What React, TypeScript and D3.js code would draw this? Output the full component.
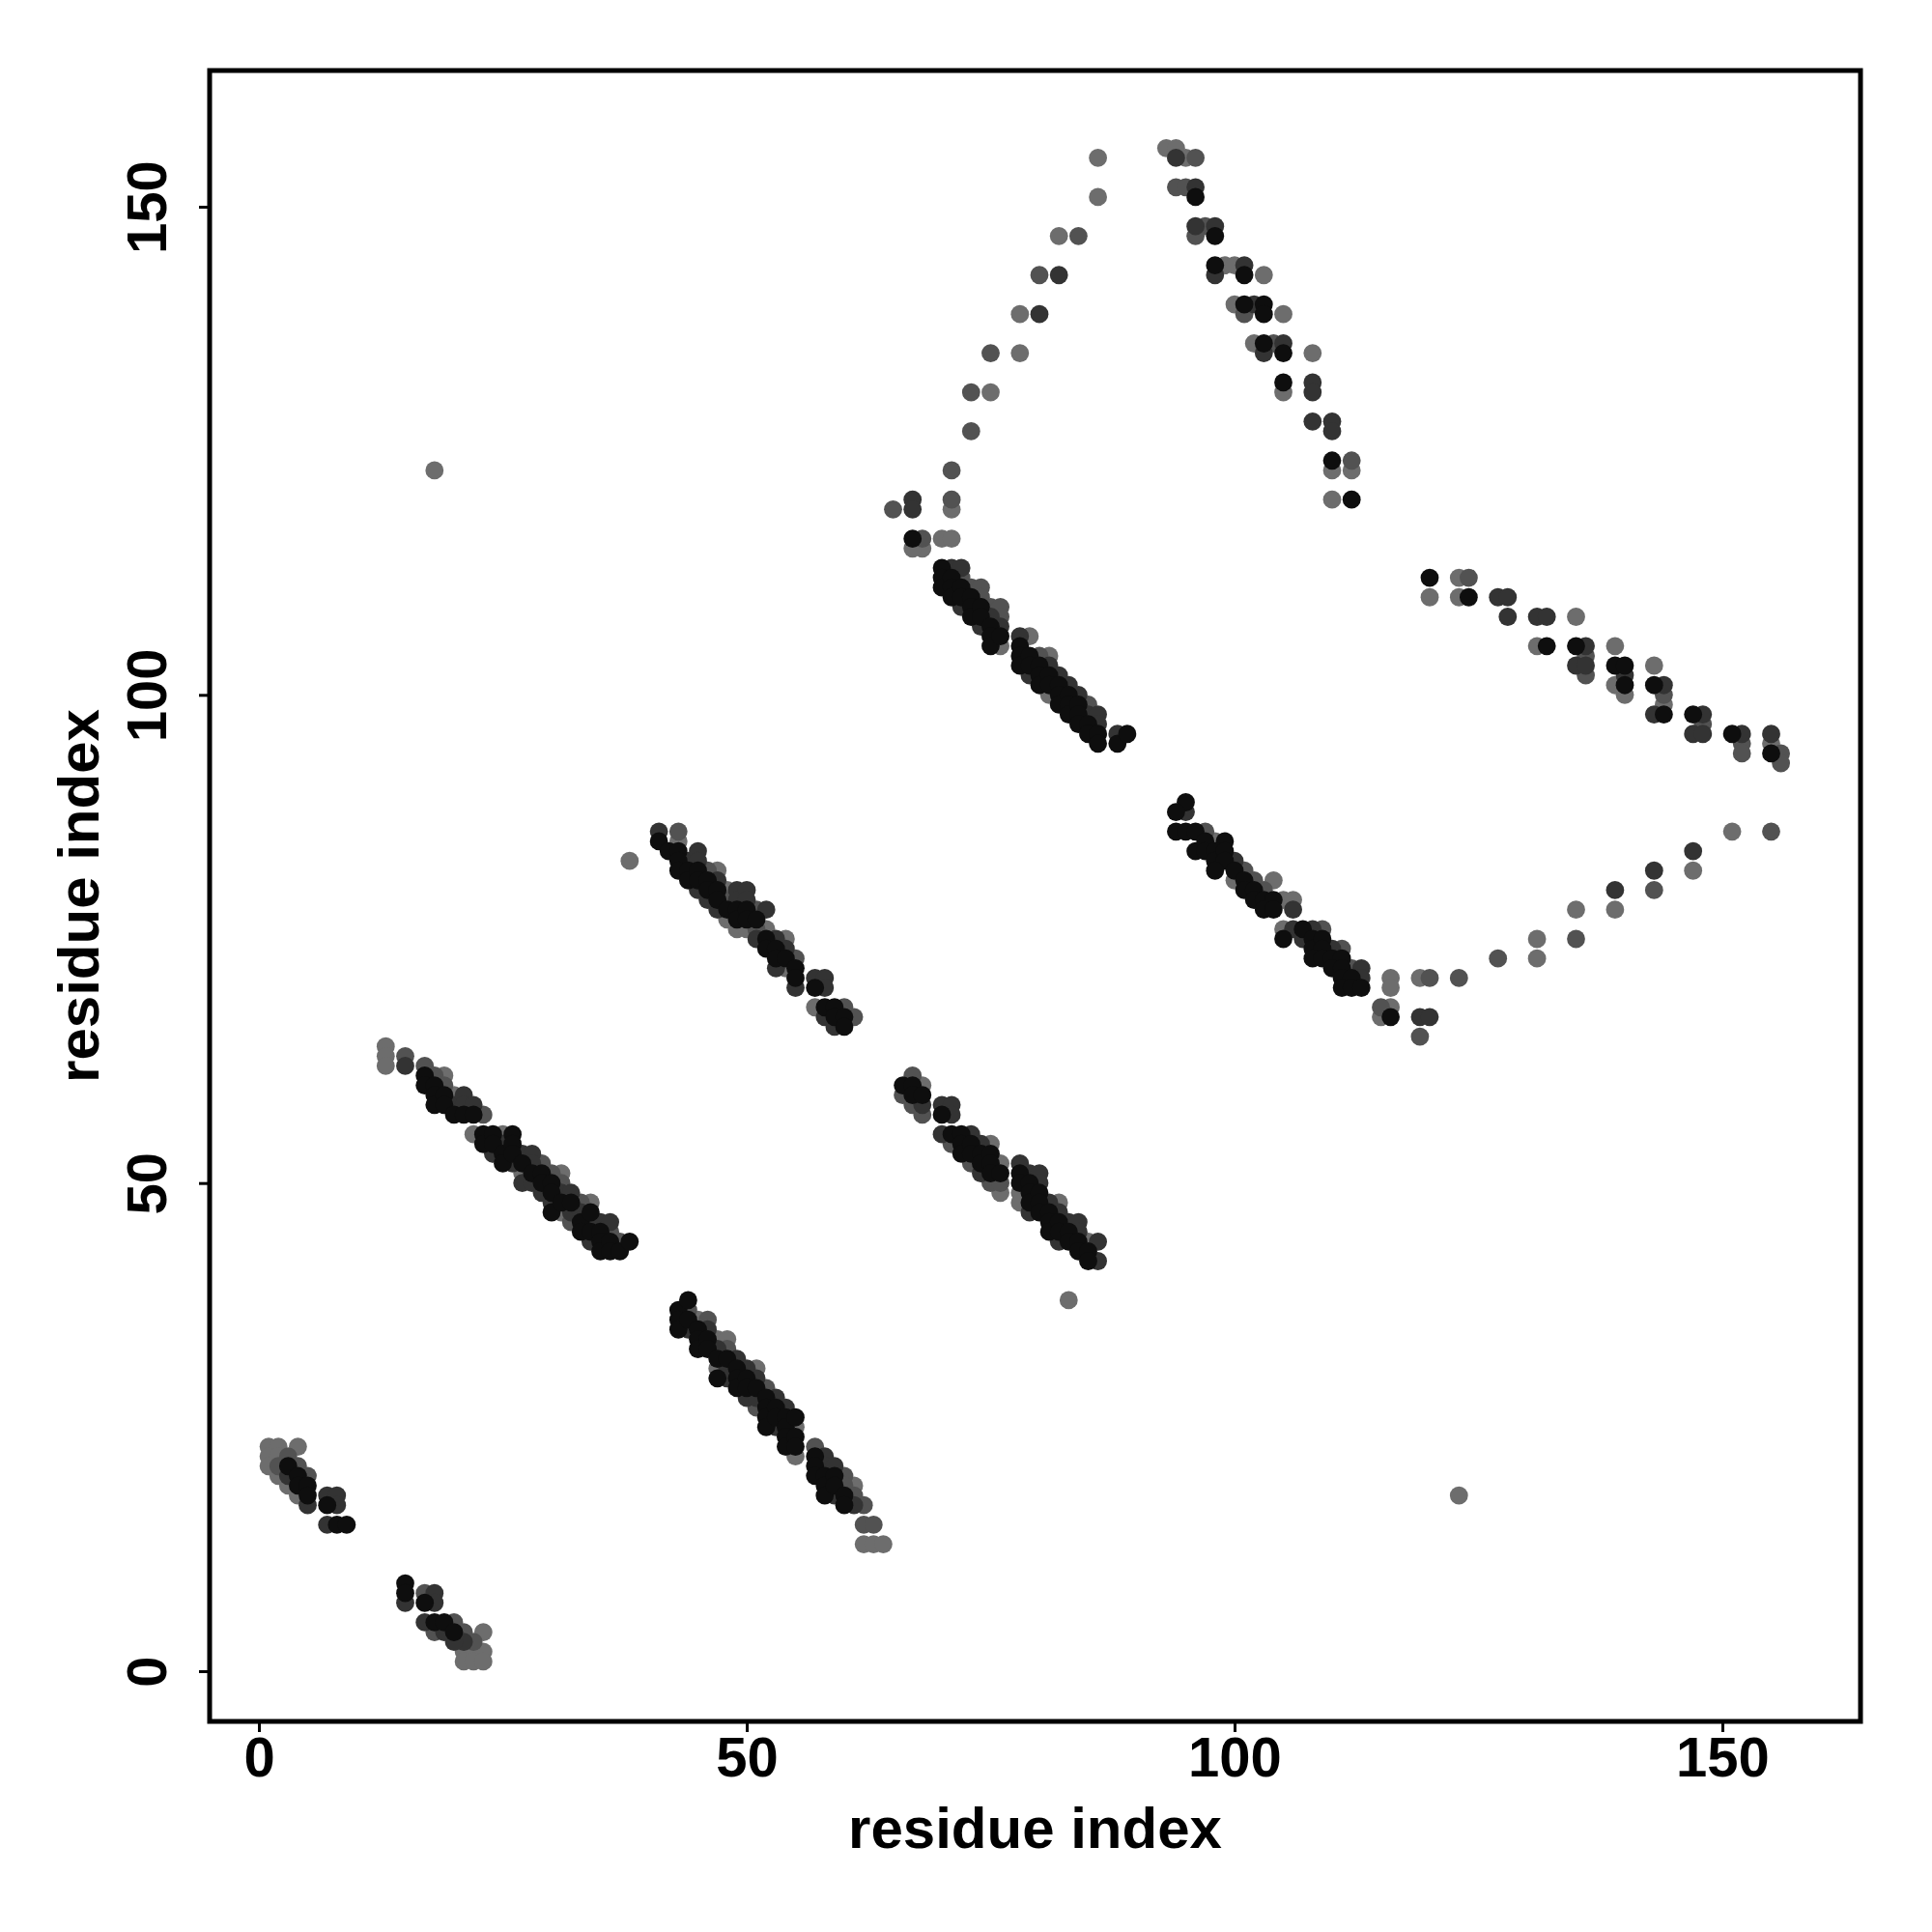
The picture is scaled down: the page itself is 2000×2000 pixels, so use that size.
import { useEffect, useRef } from "react";
import * as d3 from "d3";

// contact points as "i,j" pairs, grouped by grey level
const lightPts =
  "1,23 2,23 4,23 1,22 2,22 1,21 2,20 3,19 4,18 " +
  "23,4 21,2 22,2 23,2 21,1 22,1 23,1 " +
  "13,64 13,63 13,62 19,61 20,59 22,55 25,55 27,51 31,51 31,47 34,48 " +
  "38,83 43,85 47,82 48,80 48,77 49,76 50,76 52,76 54,75 54,72 57,68 " +
  "45,36 47,34 48,34 47,31 51,31 55,25 55,22 61,19 62,13 63,13 64,13 " +
  "68,60 75,54 76,52 76,49 78,49 78,48 82,48 85,44 83,38 " +
  "76,105 79,106 81,104 81,100 71,119 68,115 67,115 70,116 71,116 " +
  "86,155 86,151 82,147 78,139 78,135 75,131 " +
  "93,156 94,156 95,155 99,144 100,144 103,143 100,140 105,139 102,136 108,135 105,131 110,123 112,123 110,120 " +
  "98,85 100,81 104,81 105,79 106,79 105,76 116,71 116,70 115,67 116,68 119,71 " +
  "131,75 131,73 135,78 139,78 147,82 151,86 " +
  "120,110 123,112 123,110 135,108 131,105 139,105 139,101 140,100 143,103 144,99 155,95 " +
  "18,123 123,18";

const midPts =
  "3,22 2,21 4,21 5,20 " +
  "17,8 20,5 18,4 21,4 22,3 " +
  "15,63 17,62 18,61 19,60 23,57 29,52 30,51 31,50 32,46 33,48 36,45 37,44 " +
  "43,86 46,82 48,79 51,78 51,76 55,73 60,68 61,67 " +
  "44,37 46,36 48,33 51,27 52,29 57,23 60,20 60,19 61,18 62,17 62,15 63,15 " +
  "66,59 67,61 67,58 68,57 71,54 73,52 75,50 76,50 " +
  "72,112 73,111 74,111 74,110 75,109 76,109 76,108 80,104 85,99 65,119 71,120 68,116 " +
  "84,147 80,143 75,135 73,131 73,127 71,123 " +
  "96,155 94,152 95,152 97,148 96,147 101,139 104,136 112,124 " +
  "97,86 101,82 102,81 103,80 109,76 111,74 112,72 115,68 119,65 120,71 123,71 " +
  "127,73 135,75 143,80 " +
  "124,112 136,104 136,102 144,100 148,97 152,95 152,94 156,94 156,93 155,86";

const darkPts =
  "3,20 5,17 7,18 8,18 8,17 7,15 " +
  "15,7 18,8 18,7 17,5 19,4 21,3 20,3 " +
  "15,62 20,58 21,59 21,58 22,58 24,53 25,54 26,52 27,53 27,50 28,53 28,52 28,50 29,49 30,48 31,49 32,49 32,47 33,47 34,46 34,44 35,46 36,46 " +
  "41,86 44,83 45,84 45,83 45,80 46,79 47,81 47,78 49,80 49,79 50,80 50,79 51,75 52,78 53,75 53,72 54,74 55,70 57,71 58,71 58,70 58,67 59,66 " +
  "44,35 46,35 47,33 48,31 48,30 49,32 50,31 50,28 51,30 51,28 53,28 53,25 54,27 58,22 58,21 59,21 59,18 61,17 " +
  "68,58 70,58 70,55 71,58 71,57 73,55 74,54 74,51 78,52 79,51 79,47 80,51 80,50 81,48 82,47 82,44 83,46 84,46 84,45 86,44 86,42 " +
  "71,113 72,113 72,109 74,107 75,108 76,107 78,106 79,102 81,103 82,102 83,101 84,100 85,98 86,98 86,97 88,96 67,120 67,119 " +
  "82,143 80,139 " +
  "94,155 96,152 96,148 98,148 98,143 101,144 102,140 105,136 103,135 108,132 108,131 108,128 110,128 110,127 " +
  "95,88 100,83 106,78 106,76 108,76 107,75 110,74 113,72 113,71 119,67 120,67 " +
  "139,80 143,82 147,84 " +
  "127,110 128,110 128,108 131,108 132,108 136,105 135,103 136,103 140,102 144,101 143,98 148,98 147,96 148,96 152,96 155,96";

const blackPts =
  "3,21 4,20 4,19 5,19 5,18 7,17 8,15 9,15 " +
  "15,9 15,8 17,7 18,5 19,5 20,4 " +
  "17,61 17,60 18,60 18,59 18,58 19,59 19,58 20,57 21,57 22,57 23,55 23,54 24,55 24,54 25,53 25,52 26,55 26,54 26,53 " +
  "27,52 28,51 29,51 29,50 30,50 30,49 30,47 31,48 32,48 33,46 33,45 34,47 34,45 35,45 35,44 35,43 36,44 36,43 37,43 38,44 " +
  "41,85 42,84 43,84 43,83 43,82 44,82 44,81 45,82 45,81 46,81 46,80 47,80 47,79 48,78 49,78 49,77 50,78 50,77 " +
  "51,77 52,75 52,74 53,74 53,73 54,73 55,72 55,71 57,70 58,68 59,68 59,67 60,67 60,66 " +
  "43,37 43,36 43,35 44,38 44,36 45,35 45,34 45,33 46,34 46,33 47,32 47,30 48,32 49,31 49,30 49,29 50,30 50,29 51,29 " +
  "52,28 52,27 52,26 52,25 53,27 53,26 54,26 54,25 54,24 54,23 55,26 55,24 55,23 57,22 57,21 57,20 58,20 58,19 58,18 59,20 59,19 60,18 60,17 " +
  "66,60 67,60 67,59 68,59 70,57 71,55 72,55 72,54 72,53 73,54 73,53 74,53 74,52 75,53 75,52 75,51 76,51 78,51 78,50 " +
  "79,50 79,49 79,48 80,49 80,48 80,47 81,47 81,46 81,45 82,46 82,45 83,45 83,44 84,44 84,43 85,43 85,42 " +
  "70,113 70,112 70,111 71,112 71,111 71,110 72,111 72,110 73,110 73,109 73,108 74,109 74,108 75,107 75,106 75,105 76,106 " +
  "78,105 78,104 78,103 79,104 79,103 80,103 80,102 80,101 81,102 81,101 82,101 82,100 82,99 83,100 83,99 83,98 " +
  "84,99 84,98 84,97 85,97 85,96 86,96 86,95 88,95 89,96 67,116 " +
  "96,151 98,147 98,144 101,143 101,140 103,140 103,139 103,136 105,135 105,132 110,124 112,120 " +
  "95,89 94,88 94,86 95,86 96,86 99,85 96,84 97,85 97,84 98,84 98,83 99,84 99,83 98,82 100,82 101,81 101,80 102,80 102,79 " +
  "103,79 104,79 103,78 104,78 107,76 105,75 108,75 108,74 109,75 109,74 108,73 109,73 110,73 111,73 110,72 111,72 111,71 112,71 " +
  "111,70 112,70 113,70 116,67 " +
  "120,112 124,110 132,105 135,105 139,103 140,103 140,101 143,101 144,98 147,98 151,96 155,94";

const tickValues = [0, 50, 100, 150];
const xLabel = "residue index";
const yLabel = "residue index";

const layers = [
  { pts: lightPts, fill: "#6d6d6d" },
  { pts: midPts, fill: "#525252" },
  { pts: darkPts, fill: "#333333" },
  { pts: blackPts, fill: "#0e0e0e" },
];

const parse = (s: string) =>
  s
    .trim()
    .split(/\s+/)
    .map((p) => p.split(",").map(Number) as [number, number]);

const FONT = "'Liberation Sans', Arial, Helvetica, sans-serif";

export default function App() {
  const svgRef = useRef<SVGSVGElement>(null);

  useEffect(() => {
    if (!svgRef.current) return;
    const svg = d3.select(svgRef.current);
    svg.selectAll("*").remove();

    const box = { left: 217, top: 73, right: 1926, bottom: 1782 };

    const x = d3.scaleLinear().domain([0, 150]).range([268, 1783]);
    const y = d3.scaleLinear().domain([0, 150]).range([1730, 214]);

    svg.append("rect").attr("width", 2000).attr("height", 2000).attr("fill", "#ffffff");

    // points
    const g = svg.append("g");
    layers.forEach((layer) => {
      g.append("g")
        .selectAll("circle")
        .data(parse(layer.pts))
        .join("circle")
        .attr("cx", (d) => x(d[0]))
        .attr("cy", (d) => y(d[1]))
        .attr("r", 9.4)
        .attr("fill", layer.fill);
    });

    // box
    svg
      .append("rect")
      .attr("x", box.left)
      .attr("y", box.top)
      .attr("width", box.right - box.left)
      .attr("height", box.bottom - box.top)
      .attr("fill", "none")
      .attr("stroke", "#000")
      .attr("stroke-width", 5);

    // x axis
    const xAxis = svg
      .append("g")
      .attr("transform", `translate(0,${box.bottom})`)
      .call(d3.axisBottom(x).tickValues(tickValues).tickSize(11).tickPadding(5).tickFormat(d3.format("d")));
    xAxis.select(".domain").remove();
    xAxis.selectAll("line").attr("stroke", "#000").attr("stroke-width", 3);
    xAxis
      .selectAll("text")
      .attr("fill", "#000")
      .style("font-family", FONT)
      .style("font-weight", "bold")
      .style("font-size", "58px");

    // y axis (labels rotated)
    const yAxis = svg
      .append("g")
      .attr("transform", `translate(${box.left},0)`)
      .call(d3.axisLeft(y).tickValues(tickValues).tickSize(11).tickFormat(d3.format("d")));
    yAxis.select(".domain").remove();
    yAxis.selectAll("line").attr("stroke", "#000").attr("stroke-width", 3);
    yAxis
      .selectAll("text")
      .attr("transform", "rotate(-90)")
      .attr("x", 0)
      .attr("y", -45)
      .attr("dy", 0)
      .attr("text-anchor", "middle")
      .attr("fill", "#000")
      .style("font-family", FONT)
      .style("font-weight", "bold")
      .style("font-size", "58px");

    // titles
    svg
      .append("text")
      .attr("x", (box.left + box.right) / 2)
      .attr("y", 1913)
      .attr("text-anchor", "middle")
      .style("font-family", FONT)
      .style("font-weight", "bold")
      .style("font-size", "60px")
      .text(xLabel);

    svg
      .append("text")
      .attr("transform", `translate(102,${(box.top + box.bottom) / 2}) rotate(-90)`)
      .attr("text-anchor", "middle")
      .style("font-family", FONT)
      .style("font-weight", "bold")
      .style("font-size", "60px")
      .text(yLabel);
  }, []);

  return (
    <div style={{ position: "absolute", left: 0, top: 0 }}>
      <svg ref={svgRef} width={2000} height={2000} style={{ display: "block" }}></svg>
    </div>
  );
}
